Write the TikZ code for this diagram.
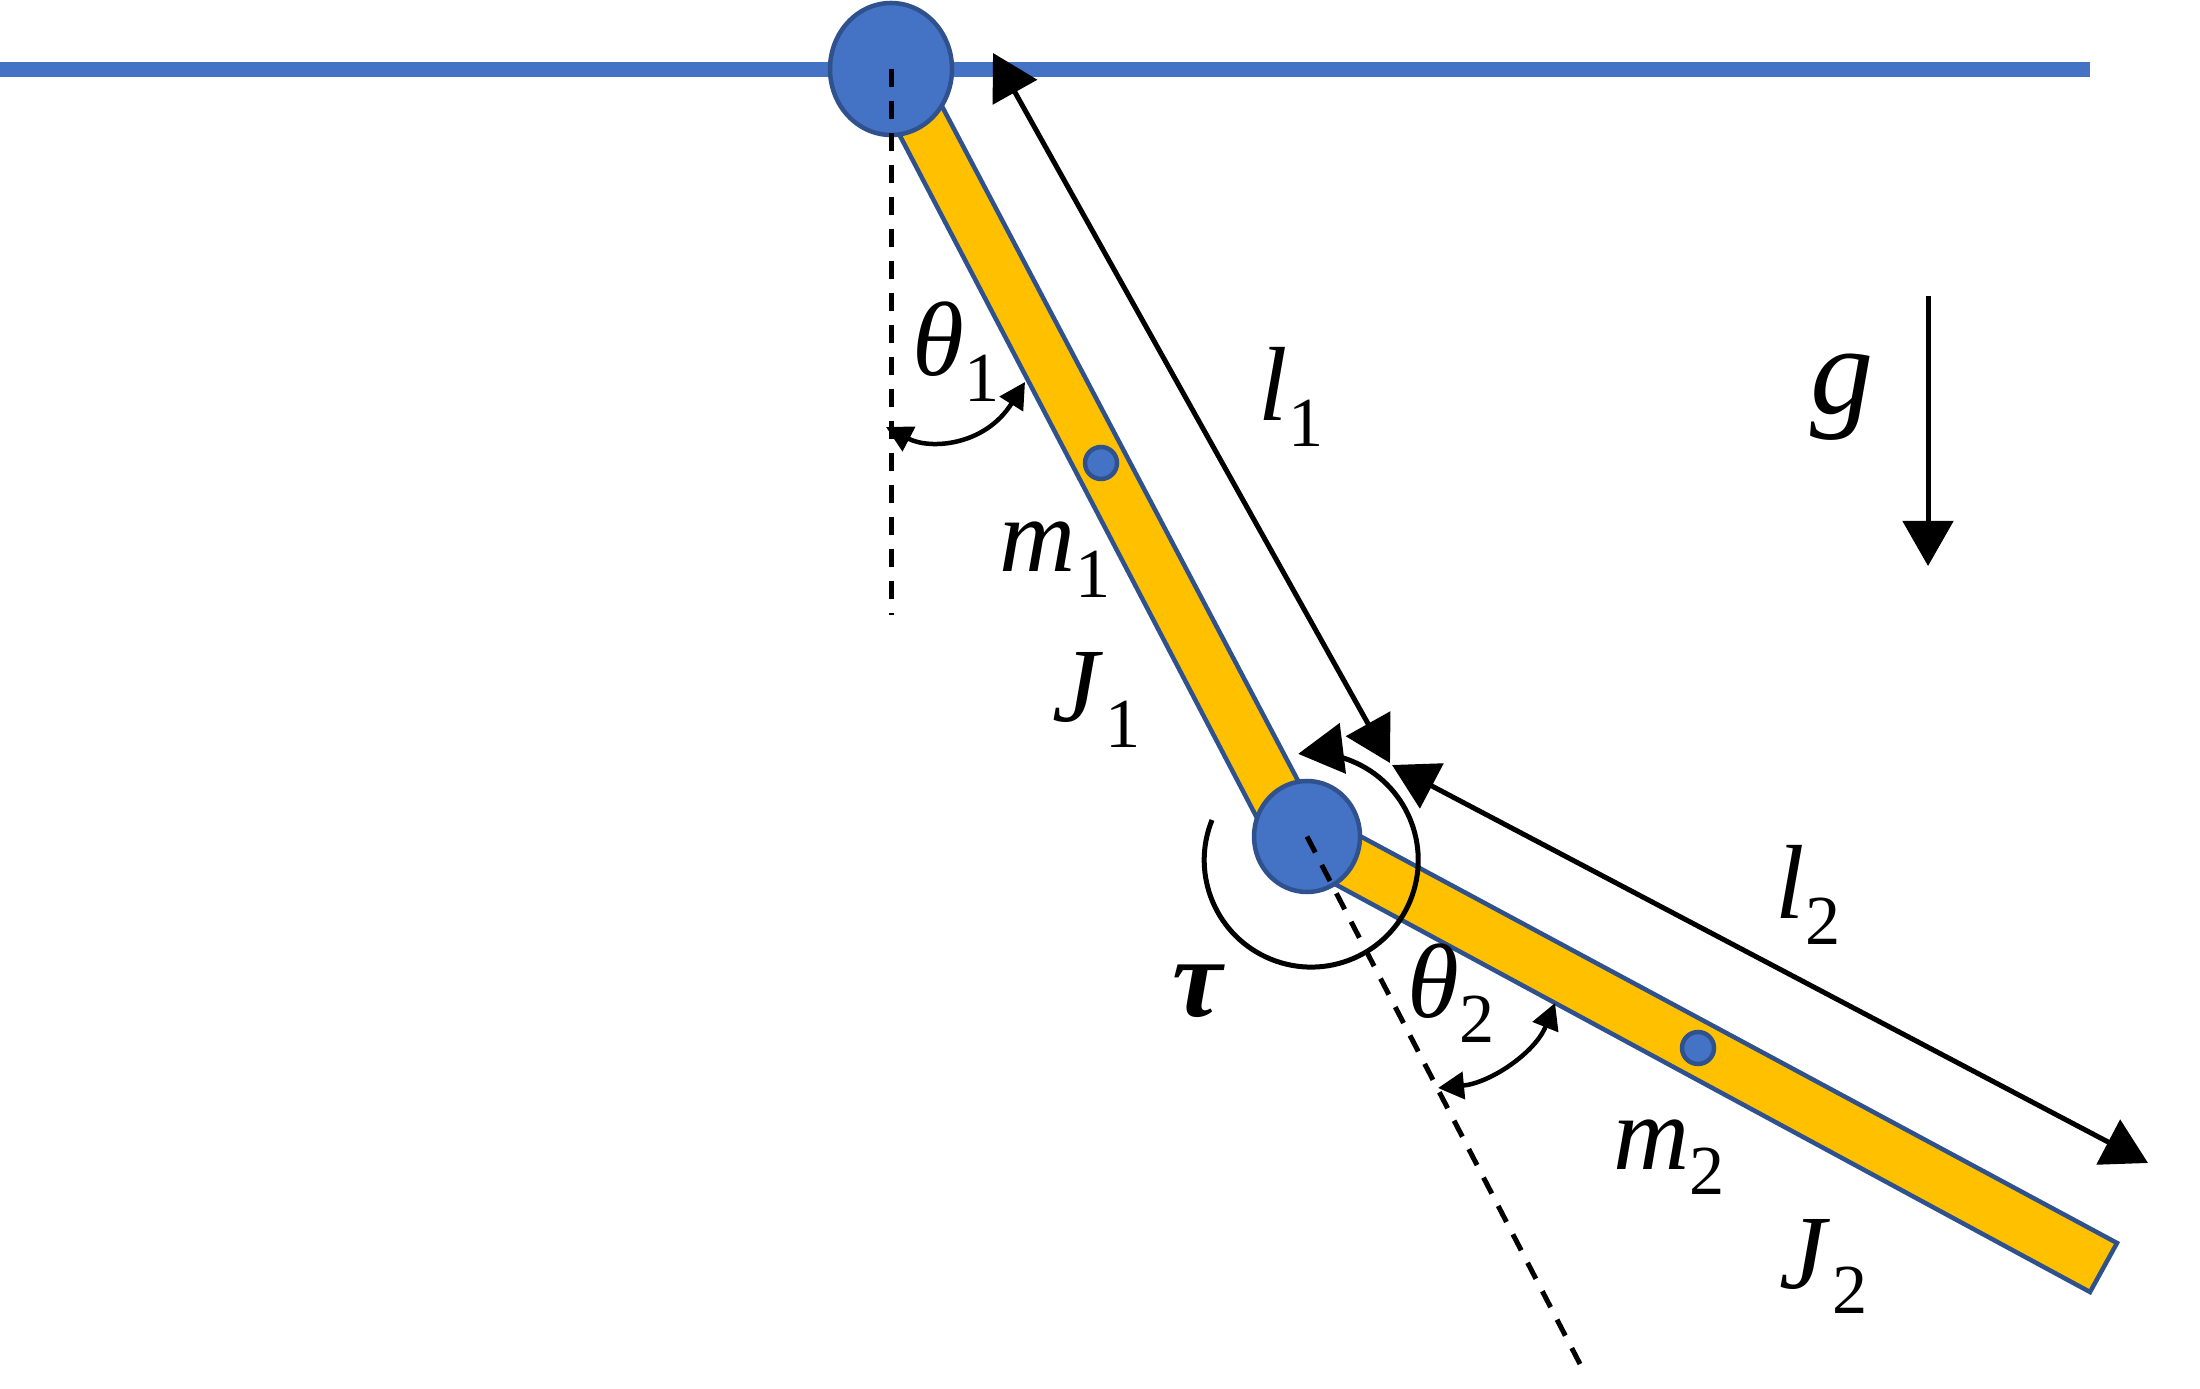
\documentclass[tikz,border=0pt]{standalone}
\usepackage{fontspec}
\setmainfont{Liberation Serif}
\usetikzlibrary{arrows.meta}
\definecolor{jointblue}{HTML}{4472C4}
\definecolor{edgeblue}{HTML}{2F528F}
\definecolor{linkgold}{HTML}{FFC000}
\newcommand{\lowsub}[1]{\raisebox{-0.24em}{\fontsize{20}{20}\selectfont\upshape #1}}
\tikzset{
    link/.style={draw=edgeblue, line width=0.045cm, fill=linkgold},
    joint/.style={draw=edgeblue, line width=0.045cm, fill=jointblue},
    guide/.style={line width=0.05cm, dash pattern=on 0.18cm off 0.14cm},
    dimline/.style={line width=0.05cm, -{Triangle[length=0.45cm, width=0.5cm]}},
    dimboth/.style={line width=0.05cm, {Triangle[length=0.45cm, width=0.5cm]}-{Triangle[length=0.45cm, width=0.5cm]}},
    anglearc/.style={line width=0.045cm, {Triangle[length=0.26cm, width=0.27cm]}-{Triangle[length=0.26cm, width=0.27cm]}},
    lbl/.style={anchor=base west, inner sep=0pt, font=\fontsize{30}{30}\selectfont\itshape}
}
\begin{document}
\begin{tikzpicture}
    \useasboundingbox (0,0) rectangle (22,13.88);

    % Координаты
    \coordinate (P1) at (8.91,13.19);
    \coordinate (P2) at (13.07,5.515);
    \coordinate (D1) at (8.91,7.73);
    \coordinate (D2) at (15.80,0.24);
    \coordinate (C1) at (11.01,9.25);
    \coordinate (C2) at (16.98,3.40);

    % Опора
    \draw[jointblue, line width=0.15cm] (0,13.18) -- (20.9,13.18);

    % Стержни
    \draw[link] (8.65,13.19) -- (9.07,13.48) -- (13.33,5.41) -- (12.90,5.07) -- cycle;
    \draw[link] (13.32,5.67) -- (13.07,5.19) -- (20.90,0.96) -- (21.17,1.45) -- cycle;

    % Шарниры и центры масс
    \filldraw[joint] (C1) circle (0.16);
    \filldraw[joint] (C2) circle (0.16);
    \draw[joint] (P1) ellipse (0.61 and 0.66);
    \draw[joint] (P2) ellipse (0.53 and 0.555);

    % Вертикали
    \draw[guide] (P1) -- (D1);
    \draw[guide] (P2) -- (D2);

    % Размеры
    \draw[dimboth] (9.93,13.35) -- (13.90,6.25);
    \draw[dimboth] (13.92,6.23) -- (21.48,2.25);
    \draw[dimline] (19.28,10.92) -- (19.28,8.22);

    % Момент
    \draw[dimline] (12.12,5.68) arc (158:457:1.07);

    % Углы
    \draw[anglearc] (8.86,9.61) .. controls (9.30,9.38) and (9.85,9.42) .. (10.25,10.06);
    \draw[anglearc] (14.38,3.00) .. controls (14.90,3.05) and (15.35,3.35) .. (15.55,3.85);

    % Подписи
    \node[lbl] at (9.12,10.12) {θ\lowsub{1}};
    \node[lbl] at (12.58,9.67) {l\lowsub{1}};
    \node[lbl, font=\fontsize{36}{36}\selectfont\itshape] at (18.10,9.74) {g};
    \node[lbl] at (9.99,8.16) {m\lowsub{1}};
    \node[lbl] at (10.52,6.66) {J\kern0.06em\lowsub{1}};
    \node[lbl, font=\fontsize{32}{32}\selectfont\bfseries\itshape] at (11.72,3.72) {τ};
    \node[lbl] at (14.07,3.71) {θ\lowsub{2}};
    \node[lbl] at (17.75,4.69) {l\lowsub{2}};
    \node[lbl] at (16.13,2.19) {m\lowsub{2}};
    \node[lbl] at (17.79,1.00) {J\kern0.06em\lowsub{2}};
\end{tikzpicture}
\end{document}
